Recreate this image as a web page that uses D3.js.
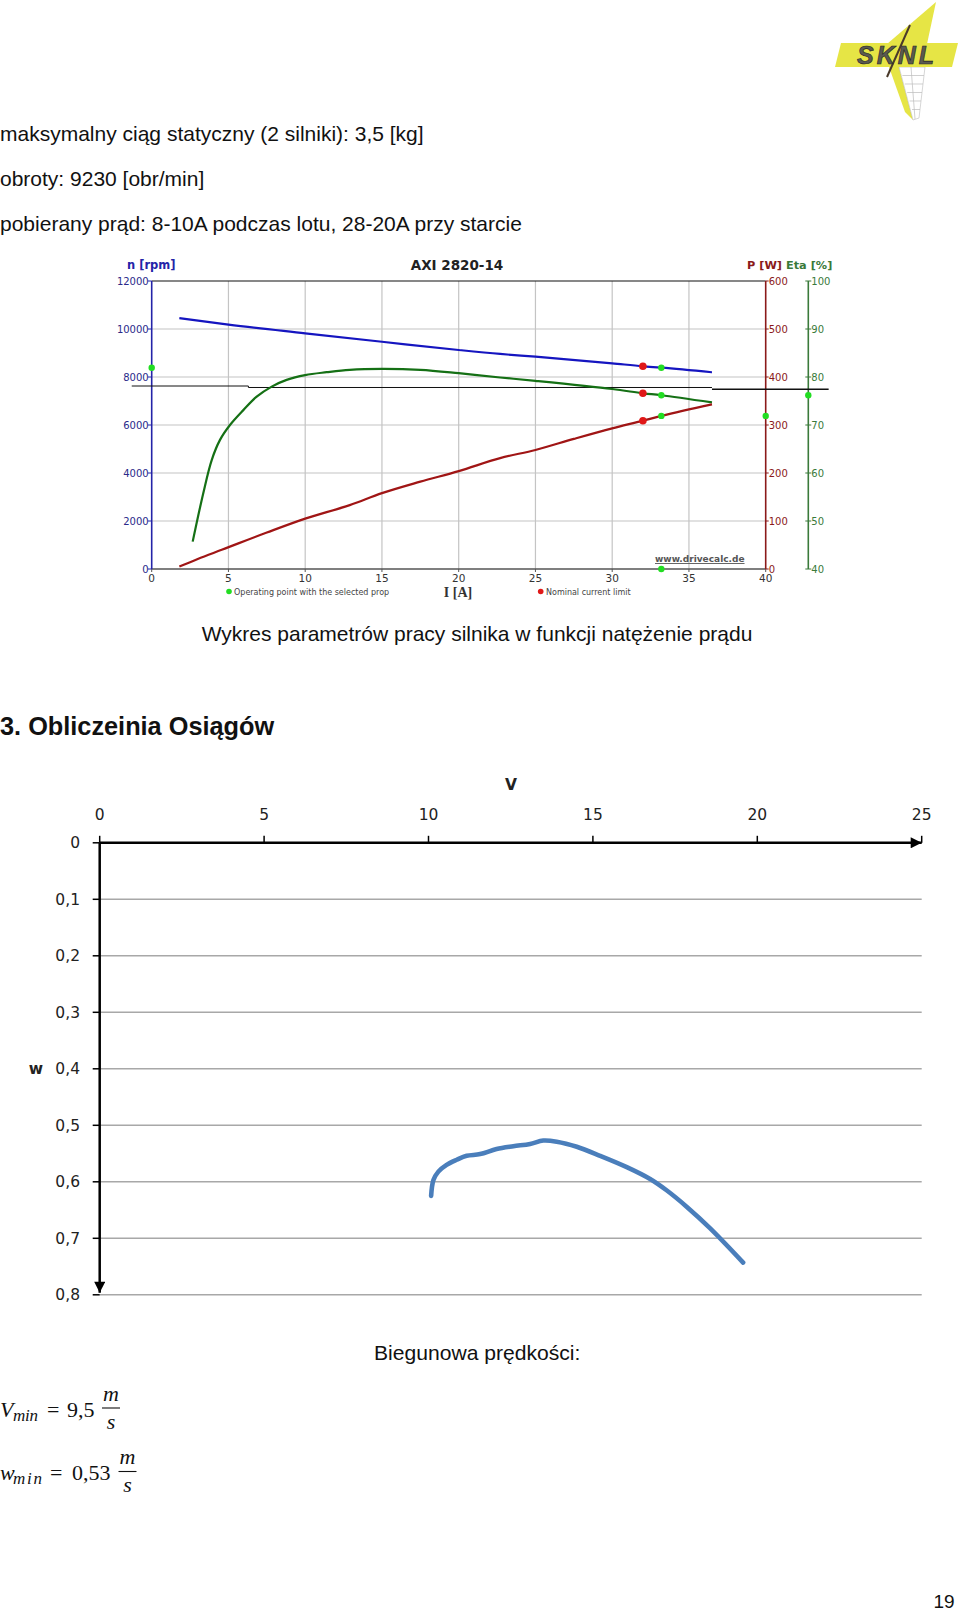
<!DOCTYPE html>
<html><head><meta charset="utf-8">
<script src="https://cdn.jsdelivr.net/npm/d3@7"></script>
<style>body{margin:0;background:#fff}svg{display:block}</style>
</head><body>
<svg id="page" width="960" height="1612"></svg>
<script>
// ---------- DATA ----------
const motorTitle = "AXI 2820-14";
const currentTicks = [0, 5, 10, 15, 20, 25, 30, 35, 40];
const rpmTicks = [0, 2000, 4000, 6000, 8000, 10000, 12000];
const powerTicks = [0, 100, 200, 300, 400, 500, 600];
const etaTicks = [40, 50, 60, 70, 80, 90, 100];
// [current A, rpm]
const speedCurve = [[1.8,10450],[5,10180],[10,9820],[15,9470],[20,9125],[22.7,8960],[25,8846],[30,8571],[32,8446],[33.2,8388],[36.5,8196]];
// [current A, efficiency %]
const efficiencyCurve = [[2.67,45.7],[3.36,55.8],[3.91,62.7],[4.45,66.9],[5.1,70.0],[5.97,73.1],[6.84,75.9],[7.82,78.0],[8.79,79.4],[10,80.4],[11.4,81.0],[12.9,81.5],[15,81.7],[17.5,81.5],[20,80.8],[22.7,79.9],[25,79.2],[30,77.5],[32,76.6],[33.2,76.2],[36.5,74.7]];
// [current A, power W]
const powerCurve = [[1.8,5],[3,21],[4.56,40],[7.5,76],[10,105],[12.9,133],[15,158],[17.5,182],[20,204],[22.7,231],[25,248],[27.5,271],[30,293],[32,309],[33.2,319],[36.5,343]];
// thin black reference line [current, rpm]
const referenceLine = [[-1.3,7625],[6.3,7625],[6.3,7563],[36.5,7563]];
const referenceLineRight = [[36.5,7488],[44.1,7488]];
const operatingPoint = {current: 33.2, rpm: 8388, power: 319, eta: 76.2};
const nominalPoint = {current: 32, rpm: 8446, power: 309, eta: 76.6};

// polar (speed polar)
const polarV = [10.08,10.15,10.30,10.55,10.86,11.16,11.57,12.07,12.58,13.09,13.49,13.90,14.51,15.22,16.03,16.74,17.24,17.85,18.56,19.57];
const polarW = [0.625,0.597,0.582,0.570,0.561,0.554,0.551,0.542,0.537,0.533,0.527,0.529,0.538,0.554,0.574,0.595,0.615,0.644,0.682,0.743];
const polarVTicks = [0, 5, 10, 15, 20, 25];
const polarWTicks = [0, 0.1, 0.2, 0.3, 0.4, 0.5, 0.6, 0.7, 0.8];

const textLines = [
  "maksymalny ciąg statyczny (2 silniki): 3,5 [kg]",
  "obroty: 9230 [obr/min]",
  "pobierany prąd: 8-10A podczas lotu, 28-20A przy starcie"
];

// ---------- DRAW ----------
const svg = d3.select("#page");
const arial = "'Liberation Sans', Arial, sans-serif";
const tahoma = "'DejaVu Sans', Verdana, sans-serif";

// Logo (SKNL)
const logo = svg.append("g");
logo.append("polygon").attr("points","936,2 927,44 887,44").attr("fill","#e6e545");
logo.append("polygon").attr("points","889,67 899,67 913,120 905,112").attr("fill","#e6e545");
logo.append("polygon").attr("points","899,67 925,67 919,118 913,120").attr("fill","#fff").attr("stroke","#bbb").attr("stroke-width",0.6);
for (let i = 1; i < 6; i++) {
  logo.append("line").attr("x1",900+i*2.4).attr("y1",67+i*8.5).attr("x2",925-i*1).attr("y2",67+i*8.5).attr("stroke","#bbb").attr("stroke-width",0.7);
}
logo.append("line").attr("x1",911).attr("y1",67).attr("x2",915).attr("y2",119).attr("stroke","#bbb").attr("stroke-width",0.7);
logo.append("polygon").attr("points","841,43 958,43 952,67 835,67").attr("fill","#e6e545");
logo.append("line").attr("x1",910).attr("y1",25).attr("x2",887).attr("y2",77).attr("stroke","#4a3a2a").attr("stroke-width",2);
logo.append("text").attr("x",897).attr("y",64).attr("text-anchor","middle")
  .attr("font-family",arial).attr("font-weight","bold").attr("font-style","italic")
  .attr("font-size",25).attr("fill","#5a5a50").attr("stroke","#222").attr("stroke-width",0.6)
  .attr("letter-spacing",3).text("SKNL");

// Top text lines
svg.selectAll("text.top").data(textLines).enter().append("text")
  .attr("class","top").attr("x",0).attr("y",(d,i)=>141+i*45)
  .attr("font-family",arial).attr("font-size",21).attr("fill","#111").text(d=>d);

// ---------- Upper chart ----------
const x = d3.scaleLinear().domain([0,40]).range([151.7,765.7]);
const yN = d3.scaleLinear().domain([0,12000]).range([569,281]);
const yP = d3.scaleLinear().domain([0,600]).range([569,281]);
const yE = d3.scaleLinear().domain([40,100]).range([569,281]);
const etaX = 808.3;
const up = svg.append("g");

// grid
up.selectAll("line.vg").data(currentTicks.filter(d=>d>0&&d<40)).enter().append("line")
  .attr("x1",d=>x(d)).attr("x2",d=>x(d)).attr("y1",yN(12000)).attr("y2",yN(0))
  .attr("stroke","#c4c4c4").attr("stroke-width",1.2);
up.selectAll("line.hg").data(rpmTicks.filter(d=>d>0&&d<12000)).enter().append("line")
  .attr("x1",x(0)).attr("x2",x(40)).attr("y1",d=>yN(d)).attr("y2",d=>yN(d))
  .attr("stroke","#c4c4c4").attr("stroke-width",1.2);
up.append("line").attr("x1",x(0)).attr("x2",x(40)).attr("y1",yN(12000)).attr("y2",yN(12000)).attr("stroke","#111").attr("stroke-width",1.2);
up.append("line").attr("x1",x(0)).attr("x2",x(40)).attr("y1",yN(0)).attr("y2",yN(0)).attr("stroke","#555").attr("stroke-width",1.5);

// x ticks + labels
up.selectAll("line.xt").data(currentTicks).enter().append("line")
  .attr("x1",d=>x(d)).attr("x2",d=>x(d)).attr("y1",yN(0)).attr("y2",yN(0)+3).attr("stroke","#555");
up.selectAll("text.xl").data(currentTicks).enter().append("text")
  .attr("x",d=>x(d)).attr("y",581.5).attr("text-anchor","middle")
  .attr("font-family",tahoma).attr("font-size",10.5).attr("fill","#333").text(d=>d);

// left axis
up.append("line").attr("x1",x(0)).attr("x2",x(0)).attr("y1",yN(0)).attr("y2",yN(12000)).attr("stroke","#2424a8").attr("stroke-width",1.6);
up.selectAll("line.lt").data(rpmTicks).enter().append("line")
  .attr("x1",x(0)-4).attr("x2",x(0)).attr("y1",d=>yN(d)).attr("y2",d=>yN(d)).attr("stroke","#2424a8");
up.selectAll("text.ll").data(rpmTicks).enter().append("text")
  .attr("x",x(0)-3).attr("y",d=>yN(d)+3.5).attr("text-anchor","end")
  .attr("font-family",tahoma).attr("font-size",10).attr("fill","#2a2a8a").text(d=>d);

// P axis
up.append("line").attr("x1",x(40)).attr("x2",x(40)).attr("y1",yP(0)).attr("y2",yP(600)).attr("stroke","#8b1a1a").attr("stroke-width",1.6);
up.selectAll("line.pt").data(powerTicks).enter().append("line")
  .attr("x1",x(40)).attr("x2",x(40)+3).attr("y1",d=>yP(d)).attr("y2",d=>yP(d)).attr("stroke","#8b1a1a");
up.selectAll("text.pl").data(powerTicks).enter().append("text")
  .attr("x",x(40)+3).attr("y",d=>yP(d)+3.5)
  .attr("font-family",tahoma).attr("font-size",10).attr("fill","#8b1a1a").text(d=>d);

// Eta axis
up.append("line").attr("x1",etaX).attr("x2",etaX).attr("y1",yE(40)).attr("y2",yE(100)).attr("stroke","#3a7a3a").attr("stroke-width",1.6);
up.selectAll("line.et").data(etaTicks).enter().append("line")
  .attr("x1",etaX-3).attr("x2",etaX+3).attr("y1",d=>yE(d)).attr("y2",d=>yE(d)).attr("stroke","#3a7a3a");
up.selectAll("text.el").data(etaTicks).enter().append("text")
  .attr("x",etaX+3).attr("y",d=>yE(d)+3.5)
  .attr("font-family",tahoma).attr("font-size",10).attr("fill","#3a7a3a").text(d=>d);

// titles
up.append("text").attr("x",457).attr("y",270).attr("text-anchor","middle")
  .attr("font-family",tahoma).attr("font-weight","bold").attr("font-size",13.5).attr("fill","#222").text(motorTitle);
up.append("text").attr("x",127).attr("y",269)
  .attr("font-family",tahoma).attr("font-weight","bold").attr("font-size",11.5).attr("fill","#2424a8").text("n [rpm]");
up.append("text").attr("x",747).attr("y",269)
  .attr("font-family",tahoma).attr("font-weight","bold").attr("font-size",11.3).attr("fill","#8b1a1a").text("P [W]");
up.append("text").attr("x",786).attr("y",269)
  .attr("font-family",tahoma).attr("font-weight","bold").attr("font-size",11.3).attr("fill","#3a7a3a").text("Eta [%]");

// reference line
const refLine = d3.line().x(d=>x(d[0])).y(d=>yN(d[1]));
up.append("path").attr("d",refLine(referenceLine)).attr("fill","none").attr("stroke","#111").attr("stroke-width",1);
up.append("path").attr("d",refLine(referenceLineRight)).attr("fill","none").attr("stroke","#111").attr("stroke-width",1.6);

// curves
up.append("path").attr("d",d3.line().x(d=>x(d[0])).y(d=>yN(d[1])).curve(d3.curveMonotoneX)(speedCurve))
  .attr("fill","none").attr("stroke","#1515c0").attr("stroke-width",2.2);
up.append("path").attr("d",d3.line().x(d=>x(d[0])).y(d=>yE(d[1])).curve(d3.curveCatmullRom.alpha(0.5))(efficiencyCurve))
  .attr("fill","none").attr("stroke","#157015").attr("stroke-width",2.2);
up.append("path").attr("d",d3.line().x(d=>x(d[0])).y(d=>yP(d[1])).curve(d3.curveMonotoneX)(powerCurve))
  .attr("fill","none").attr("stroke","#a01515").attr("stroke-width",2.2);

// nominal points (red)
[[x(nominalPoint.current), yN(nominalPoint.rpm)],[x(nominalPoint.current), yP(nominalPoint.power)],[x(nominalPoint.current), yE(nominalPoint.eta)]]
  .forEach(p=>up.append("circle").attr("cx",p[0]).attr("cy",p[1]).attr("r",3.8).attr("fill","#e01818"));
// operating points (green)
[[x(operatingPoint.current), yN(operatingPoint.rpm)],[x(operatingPoint.current), yP(operatingPoint.power)],[x(operatingPoint.current), yE(operatingPoint.eta)],
 [x(0), yN(operatingPoint.rpm)],[x(40), yP(operatingPoint.power)],[etaX, yE(operatingPoint.eta)],[x(operatingPoint.current), yN(0)]]
  .forEach(p=>up.append("circle").attr("cx",p[0]).attr("cy",p[1]).attr("r",3.2).attr("fill","#22dd22"));

// watermark + legends
up.append("text").attr("x",655).attr("y",562)
  .attr("font-family",tahoma).attr("font-weight","bold").attr("font-size",9).attr("fill","#555")
  .attr("text-decoration","underline").text("www.drivecalc.de");
up.append("circle").attr("cx",229).attr("cy",591.5).attr("r",2.8).attr("fill","#22dd22");
up.append("text").attr("x",234).attr("y",594.5).attr("font-family",tahoma).attr("font-size",8).attr("fill","#444").text("Operating point with the selected prop");
up.append("circle").attr("cx",540.7).attr("cy",591.5).attr("r",2.8).attr("fill","#e01818");
up.append("text").attr("x",546).attr("y",594.5).attr("font-family",tahoma).attr("font-size",8).attr("fill","#444").text("Nominal current limit");
up.append("text").attr("x",458).attr("y",597).attr("text-anchor","middle")
  .attr("font-family","'Liberation Serif', serif").attr("font-weight","bold").attr("font-size",14).attr("fill","#333").text("I [A]");

// caption & heading
svg.append("text").attr("x",477).attr("y",641).attr("text-anchor","middle")
  .attr("font-family",arial).attr("font-size",21).attr("fill","#111")
  .text("Wykres parametrów pracy silnika w funkcji natężenie prądu");
svg.append("text").attr("x",0).attr("y",735)
  .attr("font-family",arial).attr("font-weight","bold").attr("font-size",25.3).attr("fill","#111")
  .text("3. Obliczeinia Osiągów");

// ---------- Lower chart (polar) ----------
const xV = d3.scaleLinear().domain([0,25]).range([99.7,921.7]);
const yW = d3.scaleLinear().domain([0,0.8]).range([842.8,1294.8]);
const lo = svg.append("g");
const defs = svg.append("defs");
defs.append("marker").attr("id","arrR").attr("viewBox","0 0 10 10").attr("refX",10).attr("refY",5)
  .attr("markerWidth",12).attr("markerHeight",11).attr("markerUnits","userSpaceOnUse").attr("orient","auto")
  .append("path").attr("d","M0,0 L10,5 L0,10 Z").attr("fill","#000");

lo.selectAll("line.g").data(polarWTicks.filter(d=>d>0)).enter().append("line")
  .attr("x1",xV(0)).attr("x2",xV(25)).attr("y1",d=>yW(d)).attr("y2",d=>yW(d))
  .attr("stroke","#a8a8a8").attr("stroke-width",1.5);
// ticks
lo.selectAll("line.yt").data(polarWTicks).enter().append("line")
  .attr("x1",xV(0)-7).attr("x2",xV(0)).attr("y1",d=>yW(d)).attr("y2",d=>yW(d)).attr("stroke","#000").attr("stroke-width",1.5);
lo.selectAll("line.xt").data(polarVTicks).enter().append("line")
  .attr("x1",d=>xV(d)).attr("x2",d=>xV(d)).attr("y1",yW(0)-7).attr("y2",yW(0)).attr("stroke","#000").attr("stroke-width",1.5);
// axes with arrows
lo.append("line").attr("x1",xV(0)).attr("x2",xV(25)).attr("y1",yW(0)).attr("y2",yW(0))
  .attr("stroke","#000").attr("stroke-width",2.5).attr("marker-end","url(#arrR)");
lo.append("line").attr("x1",xV(0)).attr("x2",xV(0)).attr("y1",yW(0)).attr("y2",yW(0.8)-2)
  .attr("stroke","#000").attr("stroke-width",2.5).attr("marker-end","url(#arrR)");
// labels
lo.selectAll("text.xl").data(polarVTicks).enter().append("text")
  .attr("x",d=>xV(d)).attr("y",820).attr("text-anchor","middle")
  .attr("font-family",tahoma).attr("font-size",15.5).attr("fill","#222").text(d=>d);
lo.selectAll("text.yl").data(polarWTicks).enter().append("text")
  .attr("x",80).attr("y",d=>yW(d)+5.5).attr("text-anchor","end")
  .attr("font-family",tahoma).attr("font-size",15.5).attr("fill","#222")
  .text(d=>d3.format(".1~f")(d).replace(".",","));
lo.append("text").attr("x",511).attr("y",790).attr("text-anchor","middle")
  .attr("font-family",tahoma).attr("font-weight","bold").attr("font-size",15.5).attr("fill","#222").text("V");
lo.append("text").attr("x",36).attr("y",yW(0.4)+5.5).attr("text-anchor","middle")
  .attr("font-family",tahoma).attr("font-weight","bold").attr("font-size",15.5).attr("fill","#222").text("w");
// polar curve
const polarPts = polarV.map((v,i)=>[v, polarW[i]]);
lo.append("path").attr("d",d3.line().x(d=>xV(d[0])).y(d=>yW(d[1])).curve(d3.curveCatmullRom.alpha(0.5))(polarPts))
  .attr("fill","none").attr("stroke","#4a7ebb").attr("stroke-width",4.6).attr("stroke-linecap","round").attr("stroke-linejoin","round");

// ---------- bottom text ----------
svg.append("text").attr("x",374).attr("y",1360)
  .attr("font-family",arial).attr("font-size",21.1).attr("fill","#111").text("Biegunowa prędkości:");

const serif = "'Liberation Serif','DejaVu Serif',serif";
function formula(base, sym, val, pos) {
  const g = svg.append("g").attr("font-family",serif).attr("fill","#111");
  g.append("text").attr("x",0).attr("y",base).attr("font-style","italic").attr("font-size",22).text(sym);
  g.append("text").attr("x",pos.sub).attr("y",base+4).attr("font-style","italic").attr("font-size",17).attr("textLength",pos.subW).text("min");
  g.append("text").attr("x",pos.eq).attr("y",base).attr("font-size",22).text("=");
  g.append("text").attr("x",pos.val).attr("y",base).attr("font-size",22).text(val);
  g.append("text").attr("x",pos.frac).attr("y",base-16).attr("text-anchor","middle").attr("font-style","italic").attr("font-size",22).text("m");
  g.append("line").attr("x1",pos.frac-9).attr("x2",pos.frac+9).attr("y1",base-8.5).attr("y2",base-8.5).attr("stroke","#111").attr("stroke-width",1.1);
  g.append("text").attr("x",pos.frac).attr("y",base+12).attr("text-anchor","middle").attr("font-style","italic").attr("font-size",22).text("s");
}
formula(1416.5, "V", "9,5", {sub:13, subW:25, eq:47, val:67, frac:111});
formula(1480, "w", "0,53", {sub:13, subW:29, eq:50, val:72, frac:127.5});

svg.append("text").attr("x",944).attr("y",1608).attr("text-anchor","middle")
  .attr("font-family",arial).attr("font-size",19).attr("fill","#111").text("19");
</script>
</body></html>
